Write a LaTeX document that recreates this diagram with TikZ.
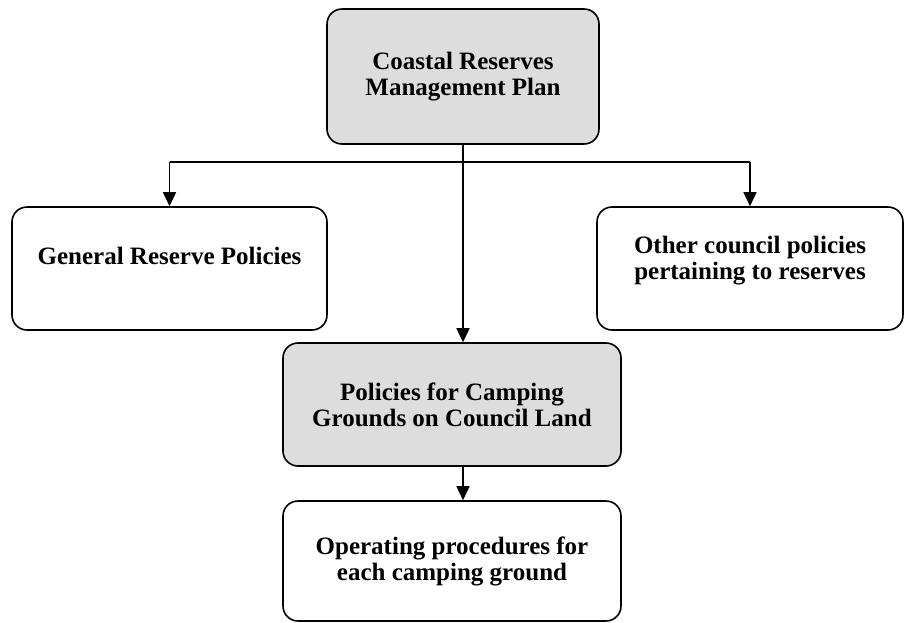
\documentclass[tikz,border=0pt]{standalone}
\usepackage{fontspec}
\setmainfont{Liberation Serif}
\usepackage{tikz}
\usetikzlibrary{arrows.meta}
\usetikzlibrary{positioning}
\definecolor{boxgray}{RGB}{221,221,221}
\tikzset{box/.style = {draw, line width=1.6pt, rounded corners=15pt, align=center,
                       font=\fontsize{25}{26}\selectfont\bfseries, inner sep=0pt},
         shaded/.style = {box, fill=boxgray},
         arr/.style = {line width=1.6pt, -{Triangle[length=14pt,width=13pt]}}}
\begin{document}
\begin{tikzpicture}[x=1pt, y=-1pt]
      \useasboundingbox (0, 0) rectangle (905, 622);

      \node [shaded, minimum width=272pt, minimum height=135pt] (plan) at (463, 76.5)
            {Coastal Reserves\\Management Plan};
      \node [box, minimum width=315pt, minimum height=123pt] (general) at (169.5, 268.5)
            {General Reserve Policies\\\mbox{}};
      \node [box, minimum width=306pt, minimum height=123pt, text depth=22pt] (other) at (750, 268.5)
            {Other council policies\\pertaining to reserves};
      \node [shaded, minimum width=338pt, minimum height=123pt] (camping) at (452, 404.5)
            {Policies for Camping\\Grounds on Council Land};
      \node [box, minimum width=338pt, minimum height=120pt] (procedures) at (452, 561)
            {Operating procedures for\\each camping ground};

      \coordinate (bar) at (463, 162);
      \draw [line width=1.6pt] (bar -| general.north) -- (bar -| other.north);
      \draw [arr] (bar -| general.north) -- (general.north);
      \draw [arr] (bar -| other.north) -- (other.north);
      \draw [arr] (plan.south) -- (plan.south |- camping.north);
      \draw [arr] (camping.south -| plan.south) -- (procedures.north -| plan.south);
\end{tikzpicture}
\end{document}
